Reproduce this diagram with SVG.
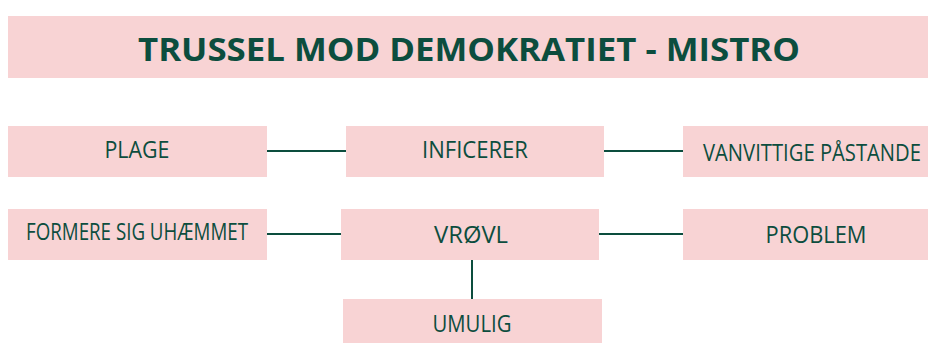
<svg xmlns="http://www.w3.org/2000/svg" width="928" height="343" viewBox="0 0 928 343">
<style>
.box{fill:#f8d3d4;}
.t{font-family:"Open Sans","Liberation Sans",sans-serif;fill:#0c4d3e;text-anchor:middle;font-size:23px;}
.title{font-family:"Open Sans","Liberation Sans",sans-serif;fill:#0c4d3e;text-anchor:middle;font-size:33px;font-weight:bold;}
.c{stroke:#0c4d3e;stroke-width:2;fill:none;}
</style>
<rect width="928" height="343" fill="#ffffff"/>
<g id="title">
<rect class="box" x="8" y="16" width="920" height="62"/>
<text class="title" x="469" y="61" textLength="662" lengthAdjust="spacingAndGlyphs">TRUSSEL MOD DEMOKRATIET - MISTRO</text>
</g>
<g id="connectors">
<line class="c" x1="267" y1="151" x2="346" y2="151"/>
<line class="c" x1="604" y1="151" x2="683" y2="151"/>
<line class="c" x1="267" y1="234" x2="341" y2="234"/>
<line class="c" x1="599" y1="234" x2="683" y2="234"/>
<line class="c" x1="472" y1="260" x2="472" y2="299"/>
</g>
<g id="plage">
<rect class="box" x="8" y="126" width="259" height="51"/>
<text class="t" x="137" y="158" textLength="65" lengthAdjust="spacingAndGlyphs">PLAGE</text>
</g>
<g id="inficerer">
<rect class="box" x="346" y="126" width="258" height="51"/>
<text class="t" x="475" y="158" textLength="106" lengthAdjust="spacingAndGlyphs">INFICERER</text>
</g>
<g id="vanvittige">
<rect class="box" x="683" y="126" width="245" height="51"/>
<text class="t" x="812" y="161" textLength="218" lengthAdjust="spacingAndGlyphs">VANVITTIGE PÅSTANDE</text>
</g>
<g id="formere">
<rect class="box" x="8" y="209" width="259" height="51"/>
<text class="t" x="137" y="240" font-size="18" textLength="222" lengthAdjust="spacingAndGlyphs">FORMERE SIG UHÆMMET</text>
</g>
<g id="vroevl">
<rect class="box" x="341" y="209" width="258" height="51"/>
<text class="t" x="471" y="243" textLength="74" lengthAdjust="spacingAndGlyphs">VRØVL</text>
</g>
<g id="problem">
<rect class="box" x="683" y="209" width="245" height="51"/>
<text class="t" x="816" y="243" textLength="101" lengthAdjust="spacingAndGlyphs">PROBLEM</text>
</g>
<g id="umulig">
<rect class="box" x="343" y="299" width="259" height="44"/>
<text class="t" x="472" y="332" textLength="79" lengthAdjust="spacingAndGlyphs">UMULIG</text>
</g>
</svg>
